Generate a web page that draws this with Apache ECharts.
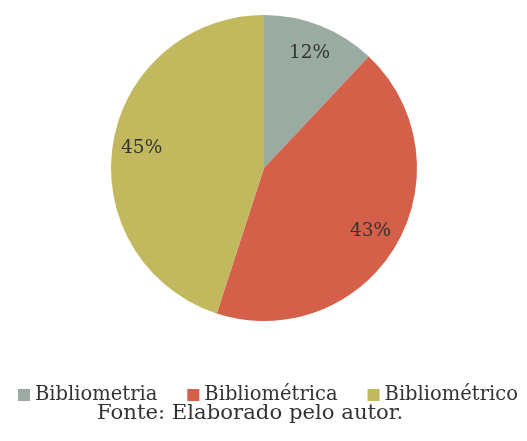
<!DOCTYPE html>
<html>
<head>
<meta charset="utf-8">
<script src="https://cdn.jsdelivr.net/npm/echarts@6/dist/echarts.min.js"></script>
<style>
  html, body { margin: 0; padding: 0; background: #ffffff; }
  #chart { width: 527px; height: 441px; }
</style>
</head>
<body>
<div id="chart"></div>
<script>
// Share of each term among the retrieved works
const categories = ['Bibliometria', 'Bibliométrica', 'Bibliométrico'];
const shares = [12, 43, 45];
const colors = ['#9aaba1', '#d5604a', '#c2b85d'];
const sourceNote = 'Fonte: Elaborado pelo autor.';

const serif = '"DejaVu Serif", "Liberation Serif", serif';
const pieRadius = 153;
const center = [264, 168];

const slices = categories.map((name, i) => ({ name: name, value: shares[i] }));

const chart = echarts.init(document.getElementById('chart'), null, { renderer: 'canvas' });
chart.setOption({
  backgroundColor: '#ffffff',
  animation: false,
  color: colors,
  title: {
    text: sourceNote,
    left: 97,
    top: 403,
    padding: 0,
    textStyle: { fontFamily: serif, fontSize: 21.2, fontWeight: 'normal', color: '#333333' }
  },
  legend: {
    data: categories,
    left: 18,
    top: 385,
    padding: 0,
    icon: 'rect',
    itemWidth: 12,
    itemHeight: 12,
    itemGap: 30,
    textStyle: { fontFamily: serif, fontSize: 19.5, color: '#333333', padding: [0, 0, 0, 0] }
  },
  series: [
    {
      // the visible pie, clockwise from twelve o'clock
      type: 'pie',
      center: center,
      radius: [0, pieRadius],
      startAngle: 90,
      clockwise: true,
      silent: true,
      label: { show: false },
      labelLine: { show: false },
      itemStyle: { borderWidth: 0 },
      data: slices
    },
    {
      // transparent twin used only to place the percentage labels further out
      type: 'pie',
      center: center,
      radius: [0, pieRadius * 1.58],
      startAngle: 90,
      clockwise: true,
      silent: true,
      z: 3,
      itemStyle: { color: 'rgba(0,0,0,0)', borderWidth: 0 },
      label: {
        show: true,
        position: 'inside',
        formatter: '{d}%',
        fontFamily: serif,
        fontSize: 18.5,
        color: '#333333'
      },
      labelLine: { show: false },
      data: slices
    }
  ]
});
</script>
</body>
</html>
